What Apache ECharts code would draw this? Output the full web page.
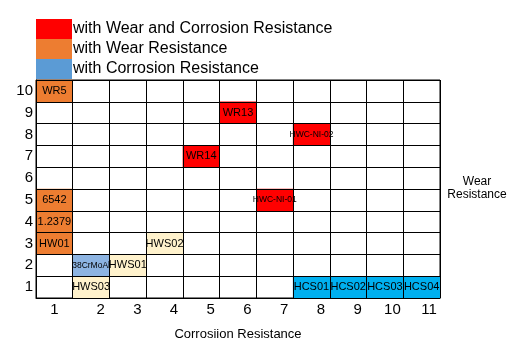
<!DOCTYPE html>
<html>
<head>
<meta charset="utf-8">
<script src="https://cdn.jsdelivr.net/npm/echarts@6/dist/echarts.min.js"></script>
<style>
  html, body { margin: 0; padding: 0; background: #fff; }
  #chart { width: 508px; height: 351px; }
</style>
</head>
<body>
<div id="chart"></div>
<script>
// axis categories
const corrosionLevels = ["1", "2", "3", "4", "5", "6", "7", "8", "9", "10", "11"];
const wearLevels = ["1", "2", "3", "4", "5", "6", "7", "8", "9", "10"];

// cells: [corrosion level, wear level, grade]
const wearAndCorrosion = [
  [6, 9, "WR13"],
  [5, 7, "WR14"],
  [8, 8, "HWC-NI-02"],
  [7, 5, "HWC-NI-01"],
];
const wearOnly = [
  [1, 10, "WR5"],
  [1, 5, "6542"],
  [1, 4, "1.2379"],
  [1, 3, "HW01"],
];
const corrosionOnly = [
  [8, 1, "HCS01"],
  [9, 1, "HCS02"],
  [10, 1, "HCS03"],
  [11, 1, "HCS04"],
];
const nitriding = [[2, 2, "38CrMoAl"]];
const others = [
  [3, 2, "HWS01"],
  [4, 3, "HWS02"],
  [2, 1, "HWS03"],
];

const smallNames = ["HWC-NI-02", "HWC-NI-01", "38CrMoAl"];

function toCells(list, color) {
  return list.map(([x, y, name]) => ({
    value: [x - 1, y - 1, 1],
    name: name,
    itemStyle: { color: color },
    label: { fontSize: smallNames.includes(name) ? 8.5 : 11 },
  }));
}

const cellLabel = {
  show: true,
  color: "#000",
  fontFamily: "Liberation Sans",
  fontSize: 11,
  textBorderWidth: 0,
  textBorderColor: "transparent",
  formatter: (p) => p.name,
};

const chart = echarts.init(document.getElementById("chart"), null, { renderer: "canvas" });

const option = {
  backgroundColor: "#fff",
  animation: false,
  textStyle: { fontFamily: "Liberation Sans" },
  legend: {
    orient: "vertical",
    left: 36,
    top: 19,
    padding: 0,
    itemGap: 0,
    itemWidth: 36,
    itemHeight: 20,
    icon: "rect",
    selectedMode: false,
    textStyle: { fontSize: 16, color: "#000", fontFamily: "Liberation Sans", padding: [0, 0, 0, -4] },
    data: [
      { name: "with Wear and Corrosion Resistance", itemStyle: { color: "#ff0000" } },
      { name: "with Wear Resistance", itemStyle: { color: "#ed7d31" } },
      { name: "with Corrosion Resistance", itemStyle: { color: "#5b9bd5" } },
    ],
  },
  grid: {
    left: 36,
    top: 80,
    width: 404,
    height: 218,
    show: true,
    backgroundColor: "#fff",
    borderColor: "#000",
    borderWidth: 1,
  },
  xAxis: {
    type: "category",
    data: corrosionLevels,
    z: 5,
    name: "Corrosiion Resistance",
    nameLocation: "middle",
    nameGap: 30,
    nameTextStyle: { fontSize: 13, color: "#000" },
    axisLine: { show: true, lineStyle: { color: "#000", width: 1 } },
    axisTick: { show: false },
    axisLabel: {
      interval: 0,
      fontSize: 15,
      color: "#000",
      margin: 4,
      // the source image nudges labels 2..11 to the right of the cell centres
      formatter: (v) => (v === "1" ? v : (v.length > 1 ? "{b|" + v + "}" : "{a|" + v + "}")),
      rich: {
        a: { fontSize: 15, color: "#000", padding: [0, 0, 0, 19] },
        b: { fontSize: 15, color: "#000", padding: [0, 0, 0, 15] },
      },
    },
    splitLine: { show: true, interval: 0, lineStyle: { color: "#000", width: 1 } },
  },
  yAxis: {
    type: "category",
    data: wearLevels,
    z: 5,
    axisLine: { show: true, lineStyle: { color: "#000", width: 1 } },
    axisTick: { show: false },
    axisLabel: { interval: 0, fontSize: 15, color: "#000", margin: 3 },
    splitLine: { show: true, interval: 0, lineStyle: { color: "#000", width: 1 } },
  },
  graphic: [
    {
      type: "text",
      x: 477,
      y: 175,
      style: {
        text: "Wear\nResistance",
        align: "center",
        textAlign: "center",
        lineHeight: 13,
        fontSize: 12,
        fontFamily: "Liberation Sans",
        fill: "#000",
      },
    },
  ],
  series: [
    {
      name: "with Wear and Corrosion Resistance",
      type: "heatmap",
      data: toCells(wearAndCorrosion, "#ff0000"),
      label: cellLabel,
    },
    {
      name: "with Wear Resistance",
      type: "heatmap",
      data: toCells(wearOnly, "#ed7d31"),
      label: cellLabel,
    },
    {
      name: "with Corrosion Resistance",
      type: "heatmap",
      data: toCells(corrosionOnly, "#00b0f0").concat(toCells(nitriding, "#8db4e2")),
      label: cellLabel,
    },
    {
      name: "other",
      type: "heatmap",
      data: toCells(others, "#fff2cc"),
      label: cellLabel,
    },
  ],
};

chart.setOption(option);
</script>
</body>
</html>
